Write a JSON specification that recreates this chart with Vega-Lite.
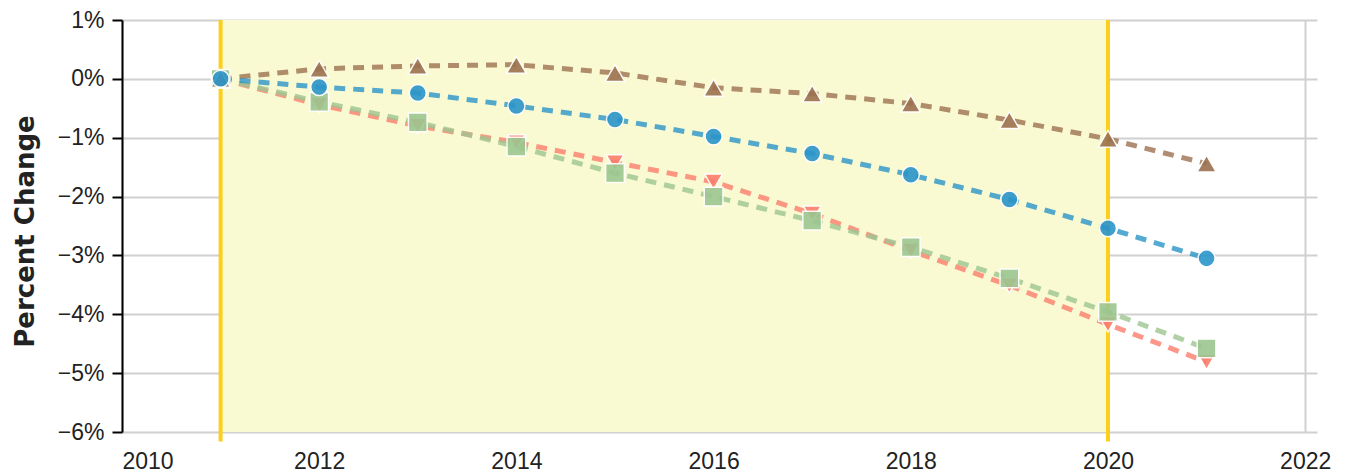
{
  "$schema": "https://vega.github.io/schema/vega-lite/v6.json",
  "width": 1195,
  "height": 412,
  "autosize": {"type": "none"},
  "padding": {"left": 122, "top": 20, "right": 32, "bottom": 42},
  "background": "white",
  "config": {
    "view": {"stroke": null},
    "axis": {
      "labelFont": "Liberation Sans",
      "labelFontSize": 23,
      "labelColor": "#222222",
      "gridColor": "#d0d0d0",
      "gridWidth": 2
    }
  },
  "datasets": {
    "band": [{"year": 2011, "year_end": 2020}],
    "marks": [{"year": 2011}, {"year": 2020}],
    "series": [
      {"year": 2011, "series": "Series 2", "value": 0},
      {"year": 2012, "series": "Series 2", "value": -0.44},
      {"year": 2013, "series": "Series 2", "value": -0.8},
      {"year": 2014, "series": "Series 2", "value": -1.08},
      {"year": 2015, "series": "Series 2", "value": -1.42},
      {"year": 2016, "series": "Series 2", "value": -1.75},
      {"year": 2017, "series": "Series 2", "value": -2.29},
      {"year": 2018, "series": "Series 2", "value": -2.92},
      {"year": 2019, "series": "Series 2", "value": -3.51},
      {"year": 2020, "series": "Series 2", "value": -4.17},
      {"year": 2021, "series": "Series 2", "value": -4.81},
      {"year": 2011, "series": "Series 3", "value": 0},
      {"year": 2012, "series": "Series 3", "value": -0.39},
      {"year": 2013, "series": "Series 3", "value": -0.74},
      {"year": 2014, "series": "Series 3", "value": -1.15},
      {"year": 2015, "series": "Series 3", "value": -1.6},
      {"year": 2016, "series": "Series 3", "value": -2.0},
      {"year": 2017, "series": "Series 3", "value": -2.41},
      {"year": 2018, "series": "Series 3", "value": -2.86},
      {"year": 2019, "series": "Series 3", "value": -3.39},
      {"year": 2020, "series": "Series 3", "value": -3.96},
      {"year": 2021, "series": "Series 3", "value": -4.58},
      {"year": 2011, "series": "Series 4", "value": 0},
      {"year": 2012, "series": "Series 4", "value": 0.17},
      {"year": 2013, "series": "Series 4", "value": 0.22},
      {"year": 2014, "series": "Series 4", "value": 0.24},
      {"year": 2015, "series": "Series 4", "value": 0.1},
      {"year": 2016, "series": "Series 4", "value": -0.15},
      {"year": 2017, "series": "Series 4", "value": -0.25},
      {"year": 2018, "series": "Series 4", "value": -0.42},
      {"year": 2019, "series": "Series 4", "value": -0.7},
      {"year": 2020, "series": "Series 4", "value": -1.02},
      {"year": 2021, "series": "Series 4", "value": -1.44},
      {"year": 2011, "series": "Series 1", "value": 0},
      {"year": 2012, "series": "Series 1", "value": -0.14},
      {"year": 2013, "series": "Series 1", "value": -0.24},
      {"year": 2014, "series": "Series 1", "value": -0.46},
      {"year": 2015, "series": "Series 1", "value": -0.69},
      {"year": 2016, "series": "Series 1", "value": -0.98},
      {"year": 2017, "series": "Series 1", "value": -1.27},
      {"year": 2018, "series": "Series 1", "value": -1.63},
      {"year": 2019, "series": "Series 1", "value": -2.05},
      {"year": 2020, "series": "Series 1", "value": -2.54},
      {"year": 2021, "series": "Series 1", "value": -3.05}
    ]
  },
  "layer": [
    {
      "data": {"name": "band"},
      "mark": {"type": "rect", "fill": "#fafad2"},
      "encoding": {
        "x": {
          "field": "year", "type": "quantitative",
          "scale": {"domain": [2010, 2022.12], "nice": false, "zero": false},
          "axis": {"title": null, "values": [2010, 2012, 2014, 2016, 2018, 2020, 2022], "format": "d", "domain": false, "ticks": false, "tickSize": 0, "labelPadding": 18, "grid": true}
        },
        "x2": {"field": "year_end"},
        "y": {
          "datum": 1, "type": "quantitative",
          "scale": {"domain": [-6, 1], "nice": false, "zero": false},
          "axis": {"title": "Percent Change", "titleFont": "DejaVu Sans", "titleFontWeight": "bold", "titleFontSize": 26, "titleColor": "#222222", "titleAngle": -90, "titleAlign": "center", "titleBaseline": "alphabetic", "titleX": -89, "titleY": 211, "values": [-6, -5, -4, -3, -2, -1, 0, 1], "labelExpr": "format(datum.value, 'd') + '%'", "domain": true, "domainColor": "#000000", "domainWidth": 2, "ticks": true, "tickColor": "#000000", "tickWidth": 2, "tickSize": 10, "labelPadding": 8, "grid": true}
        },
        "y2": {"datum": -6}
      }
    },
    {
      "data": {"name": "marks"},
      "mark": {"type": "rule", "color": "#fccf1b", "strokeWidth": 4},
      "encoding": {
        "x": {"field": "year", "type": "quantitative", "axis": {"title": null}},
        "y": {"datum": 1, "type": "quantitative", "axis": {"title": "Percent Change"}},
        "y2": {"datum": -6.16}
      }
    },
    {
      "data": {"name": "series"},
      "mark": {"type": "line", "strokeWidth": 5, "strokeDash": [11, 8], "opacity": 0.8},
      "encoding": {
        "x": {"field": "year", "type": "quantitative", "axis": {"title": null}},
        "y": {"field": "value", "type": "quantitative", "axis": {"title": "Percent Change"}},
        "color": {"field": "series", "type": "nominal", "legend": null,
          "scale": {"domain": ["Series 1", "Series 2", "Series 3", "Series 4"], "range": ["#2b95c9", "#fb7d6c", "#9cc690", "#9c7150"]}},
        "detail": {"field": "series"}
      }
    },
    {
      "data": {"name": "series"},
      "mark": {"type": "point", "filled": true, "opacity": 0.9, "stroke": "white", "strokeWidth": 1.5},
      "encoding": {
        "x": {"field": "year", "type": "quantitative", "axis": {"title": null}},
        "y": {"field": "value", "type": "quantitative", "axis": {"title": "Percent Change"}},
        "color": {"field": "series", "type": "nominal", "legend": null,
          "scale": {"domain": ["Series 1", "Series 2", "Series 3", "Series 4"], "range": ["#2b95c9", "#fb7d6c", "#9cc690", "#9c7150"]}},
        "shape": {"field": "series", "type": "nominal", "legend": null,
          "scale": {"domain": ["Series 1", "Series 2", "Series 3", "Series 4"], "range": ["circle", "triangle-down", "square", "triangle-up"]}},
        "size": {"field": "series", "type": "nominal", "legend": null,
          "scale": {"domain": ["Series 1", "Series 2", "Series 3", "Series 4"], "range": [290, 380, 260, 380]}}
      }
    }
  ]
}
